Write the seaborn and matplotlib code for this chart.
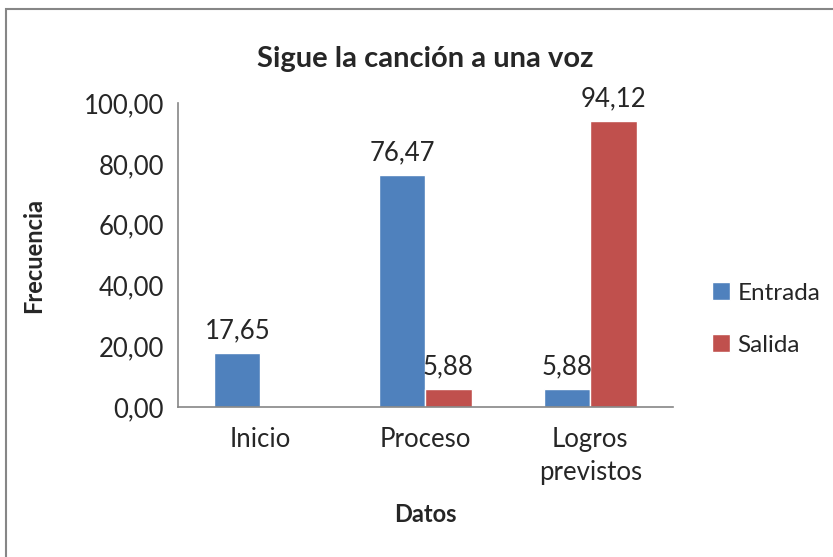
import pandas as pd
import numpy as np
import matplotlib.pyplot as plt
import seaborn as sns
from matplotlib.patches import Rectangle

categories = ['Inicio', 'Proceso', 'Logros\nprevistos']
series = ['Entrada', 'Salida']
entrada = [17.65, 76.47, 5.88]
salida = [0.0, 5.88, 94.12]
y_ticks = [0, 20, 40, 60, 80, 100]

colors = ['#4F81BD', '#C0504D']

df = pd.DataFrame({
    'Datos': categories * 2,
    'Serie': [series[0]] * 3 + [series[1]] * 3,
    'Frecuencia': entrada + salida,
})

sns.set_style('white')
plt.rcParams['font.family'] = ['Lato', 'DejaVu Sans']

fs = 18.5
fig = plt.figure(figsize=(8.33, 5.57), dpi=100)
ax = fig.add_axes([0.2137, 0.269, 0.594, 0.546])

sns.barplot(data=df, x='Datos', y='Frecuencia', hue='Serie', palette=colors,
            width=0.56, saturation=1, ax=ax, legend=True)

for cont in ax.containers:
    labels = [f'{v:.2f}'.replace('.', ',') if v > 0 else '' for v in cont.datavalues]
    ax.bar_label(cont, labels=labels, padding=7, fontsize=fs)

ax.set_ylim(0, 100)
ax.set_yticks(y_ticks)
ax.set_yticklabels([f'{v:.2f}'.replace('.', ',') for v in y_ticks], fontsize=fs)
ax.tick_params(axis='y', length=6, width=1, color='#868686', pad=4)
ax.tick_params(axis='x', length=0, labelsize=fs, pad=14)
for t in ax.get_xticklabels():
    t.set_linespacing(1.4)
for s in ['top', 'right']:
    ax.spines[s].set_visible(False)
for s in ['left', 'bottom']:
    ax.spines[s].set_color('#868686')
    ax.spines[s].set_linewidth(1.2)

ax.set_xlabel('Datos', fontsize=17, fontweight='bold', labelpad=13)
ax.set_ylabel('Frecuencia', fontsize=17, fontweight='bold', labelpad=28)
ax.set_title('Sigue la canción a una voz', fontsize=21, fontweight='bold', pad=26)

ax.legend(loc='center left', bbox_to_anchor=(1.035, 0.29), frameon=False,
          fontsize=17.5, handlelength=0.75, handleheight=0.75, handletextpad=0.3,
          labelspacing=1.25)

fig.patches.append(Rectangle((6 / 833, -0.1), 1.1, 1 - 9 / 557 + 0.1,
                             transform=fig.transFigure, fill=False,
                             edgecolor='#868686', linewidth=1.5))

fig.savefig('out.png', dpi=100)
